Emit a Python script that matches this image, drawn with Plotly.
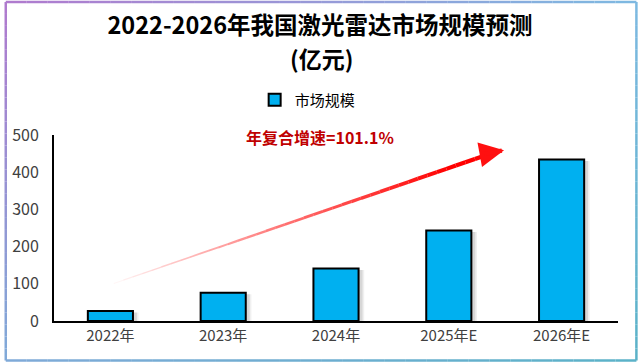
import plotly.graph_objects as go

categories = ["2022年", "2023年", "2024年", "2025年E", "2026年E"]
market_size = [27, 76, 141, 243, 434]
series_name = "市场规模"
y_ticks = [0, 100, 200, 300, 400, 500]
title_line1 = "2022-2026年我国激光雷达市场规模预测"
title_line2 = "(亿元)"
cagr_text = "年复合增速=101.1%"

FONT = "Noto Sans CJK SC"
W, H = 640, 364
ML, MR, MT, MB = 51, 22, 135, 43
PW, PH = W - ML - MR, H - MT - MB


def px2paper(px, py):
    return (px - ML) / PW, (H - MB - py) / PH


fig = go.Figure()

# soft shadow behind bars
for dx, a in [(0.035, 0.10), (0.05, 0.06)]:
    fig.add_trace(go.Bar(
        x=categories, y=market_size, width=0.4, offset=-0.2 + dx,
        marker=dict(color=f"rgba(0,0,0,{a})", line=dict(width=0)),
        showlegend=False, hoverinfo="skip", base=[-4] * len(market_size)))

fig.add_trace(go.Bar(
    x=categories, y=market_size, name=series_name, width=0.4,
    marker=dict(color="#00B0F0", line=dict(color="#000000", width=2)),
))

shapes = []
# gradient arrow shaft (data coordinates along the trend)
x0, y0, x1, y1 = 0.03, 101, 3.40, 453
N = 40
for i in range(N):
    t0, t1 = i / N, (i + 1) / N
    a = min(1.0, (t1 ** 0.9) * 1.1)
    shapes.append(dict(
        type="line", xref="x", yref="y",
        x0=x0 + (x1 - x0) * t0, y0=y0 + (y1 - y0) * t0,
        x1=x0 + (x1 - x0) * t1, y1=y0 + (y1 - y0) * t1,
        line=dict(color=f"rgba(255,0,0,{a:.3f})", width=1 + 3.5 * t1),
        layer="above"))

# gradient border around the whole picture
def lerp(c1, c2, t):
    return tuple(int(round(c1[k] + (c2[k] - c1[k]) * t)) for k in range(3))

TL, TR, BL, BR = (176, 122, 206), (125, 185, 225), (128, 170, 216), (90, 178, 200)
bx0, bx1, by0, by1 = 2.5, 636.5, 2, 360.5
M = 30
edges = [
    ((bx0, by0), (bx1, by0), TL, TR),
    ((bx1, by0), (bx1, by1), TR, BR),
    ((bx0, by1), (bx1, by1), BL, BR),
    ((bx0, by0), (bx0, by1), TL, BL),
]
for (pa, pb, ca, cb) in edges:
    for i in range(M):
        t0, t1 = i / M, (i + 1) / M
        c = lerp(ca, cb, (t0 + t1) / 2)
        xa, ya = px2paper(pa[0] + (pb[0] - pa[0]) * t0, pa[1] + (pb[1] - pa[1]) * t0)
        xb, yb = px2paper(pa[0] + (pb[0] - pa[0]) * t1, pa[1] + (pb[1] - pa[1]) * t1)
        shapes.append(dict(type="line", xref="paper", yref="paper",
                           x0=xa, y0=ya, x1=xb, y1=yb,
                           line=dict(color=f"rgb{c}", width=2.5)))

annotations = [
    dict(x=3.49, y=459, ax=3.33, ay=450, xref="x", yref="y", axref="x", ayref="y",
         showarrow=True, arrowhead=2, arrowsize=1.1, arrowwidth=4.5, arrowcolor="#FF1010",
         text=""),
    dict(x=3.47, y=458, ax=3.30, ay=448.5, xref="x", yref="y", axref="x", ayref="y",
         showarrow=True, arrowhead=0, arrowwidth=4.5, arrowcolor="#FF1010", text=""),
    dict(xref="paper", yref="paper", x=px2paper(318, 137)[0], y=px2paper(318, 137)[1],
         text=f"<b>{cagr_text}</b>", showarrow=False,
         font=dict(family=FONT, size=16, color="#C00000"), xanchor="center", yanchor="middle"),
    dict(xref="paper", yref="paper", x=px2paper(320, 58)[0], y=px2paper(320, 58)[1],
         text=f"<b>{title_line2}</b>", showarrow=False,
         font=dict(family=FONT, size=23, color="#000000"), xanchor="center", yanchor="middle"),
]

fig.update_layout(
    width=W, height=H,
    margin=dict(l=ML, r=MR, t=MT, b=MB),
    paper_bgcolor="white", plot_bgcolor="white",
    font=dict(family=FONT, color="#404040", size=15),
    title=dict(text=f"<b>{title_line1}</b>", x=0.5, xanchor="center",
               y=1 - 26 / H, yanchor="middle", yref="container",
               font=dict(family=FONT, size=23.5, color="#000000")),
    showlegend=True,
    legend=dict(orientation="h", x=px2paper(306, 0)[0], xanchor="center",
                y=px2paper(0, 100)[1], yanchor="middle",
                font=dict(family=FONT, size=15, color="#000000"),
                bgcolor="rgba(0,0,0,0)", traceorder="normal"),
    bargap=0.6,
    shapes=shapes,
    annotations=annotations,
)

fig.update_xaxes(type="category", showgrid=False, showline=True, linecolor="#000000",
                 linewidth=2, ticks="", tickfont=dict(size=15, color="#404040"),
                 range=[-0.5, 4.5], zeroline=False)
fig.update_yaxes(range=[0, 500], tickvals=y_ticks, showgrid=False, showline=True,
                 linecolor="#000000", linewidth=2, ticks="", zeroline=False,
                 tickfont=dict(size=16, color="#404040"), ticklabelstandoff=10)

fig.write_html("out.html", config={"displayModeBar": False},
               post_script="document.body.style.margin='0';document.body.style.overflow='hidden';")
